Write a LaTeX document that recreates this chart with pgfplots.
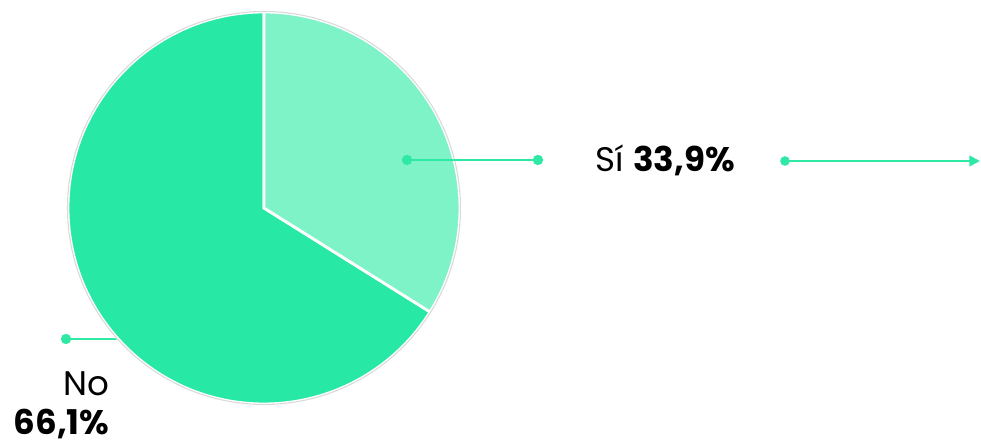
\documentclass[border=0pt]{standalone}
\usepackage{fontspec}
\setmainfont{Poppins}
\usepackage{pgfplots}
\pgfplotsset{compat=1.18}
\usetikzlibrary{arrows.meta}
\definecolor{siGreen}{HTML}{7EF3C8}
\definecolor{noGreen}{HTML}{27E9A5}
\definecolor{leadGreen}{HTML}{2EE8A4}
\begin{document}
\begin{tikzpicture}
\begin{axis}[
  width=9.81cm, height=4.44cm, scale only axis,
  hide axis, clip=false,
  xmin=0, xmax=981, ymin=0, ymax=444,
]
% keep the whole canvas as bounding box
\path (axis cs:0,0) rectangle (axis cs:981,444);
% shares (%)
\def\siVal{33.9}
\def\noVal{66.1}
\pgfmathsetmacro{\siEnd}{90-\siVal*3.6}
\pgfmathsetmacro{\noEnd}{90+\noVal*3.6}

% leader line for "No" (sits under the pie)
\addplot[leadGreen, line width=0.6pt, mark=*, mark size=1.15pt, mark repeat=2]
  coordinates {(66,105)(130,105)};

% slices
\fill[noGreen, draw=white, line width=0.8pt]
  (axis cs:264,236) -- ++(90:1.96cm) arc[start angle=90, end angle=\noEnd, radius=1.96cm] -- cycle;
\fill[siGreen, draw=white, line width=0.8pt]
  (axis cs:264,236) -- ++(\siEnd:1.96cm) arc[start angle=\siEnd, end angle=90, radius=1.96cm] -- cycle;
\draw[black!15, line width=0.3pt] (axis cs:264,236) circle[radius=1.965cm];

% leader lines for "Sí"
\addplot[leadGreen, line width=0.6pt, mark=*, mark size=1.15pt]
  coordinates {(407,284)(538,284)};
\addplot[leadGreen, line width=0.6pt, -{Triangle[length=3pt,width=3pt]}]
  coordinates {(785,283)(980,283)};
\addplot[leadGreen, only marks, mark=*, mark size=1.15pt]
  coordinates {(785,283)};

% labels
\node[anchor=west, inner sep=0pt, font=\fontsize{9.7}{11}\selectfont]
  at (axis cs:595,284) {Sí \textbf{33,9\%}};
\node[anchor=east, inner sep=0pt, font=\fontsize{9.7}{11}\selectfont]
  at (axis cs:110,60) {No};
\node[anchor=east, inner sep=0pt, font=\fontsize{9.7}{11}\selectfont\bfseries]
  at (axis cs:110,20) {66,1\%};
\end{axis}
\end{tikzpicture}
\end{document}
